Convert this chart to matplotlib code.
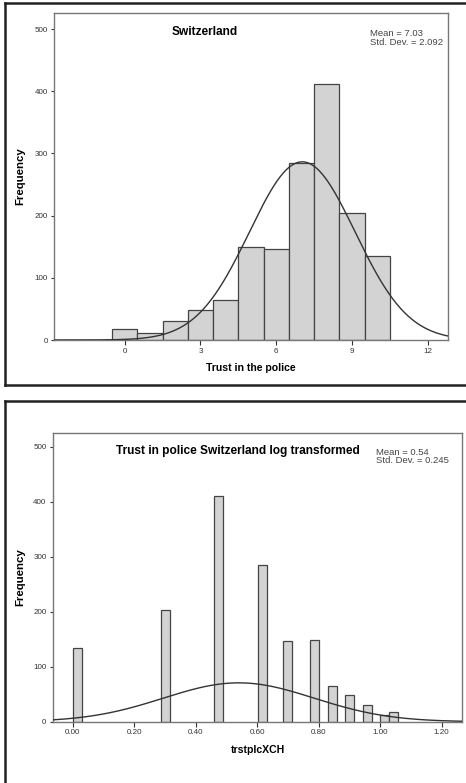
import numpy as np
import matplotlib.pyplot as plt
from matplotlib.lines import Line2D

plt.rcParams['font.family'] = ['Liberation Sans', 'DejaVu Sans']

# Dados do painel superior (escala original 0-10)
trust_values = [0, 1, 2, 3, 4, 5, 6, 7, 8, 9, 10]
trust_counts = [17, 12, 30, 49, 65, 149, 146, 285, 411, 204, 135]
trust_mean = 7.03
trust_sd = 2.092
trust_xticks = [0, 3, 6, 9, 12]

# Dados do painel inferior (log transformado)
log_centers = [0.016, 0.301, 0.473, 0.616, 0.700, 0.786, 0.844, 0.901, 0.958, 1.015, 1.044]
log_counts = [135, 204, 411, 285, 146, 149, 65, 49, 30, 12, 17]
log_mean = 0.54
log_sd = 0.245
log_xticks = [0.0, 0.2, 0.4, 0.6, 0.8, 1.0, 1.2]

y_ticks = [0, 100, 200, 300, 400, 500]

BAR_COR = '#d3d3d3'
BORDA = '#444444'
EIXO = '#777777'


def normal(x, media, dp, escala):
    return escala * np.exp(-0.5 * ((x - media) / dp) ** 2) / (dp * np.sqrt(2 * np.pi))


def estilo_eixo(ax, xlim, xticks, xlabels):
    ax.set_xlim(xlim)
    ax.set_ylim(0, 526)
    ax.set_xticks(xticks)
    ax.set_xticklabels(xlabels)
    ax.set_yticks(y_ticks)
    for s in ax.spines.values():
        s.set_color(EIXO)
        s.set_linewidth(1.0)
    ax.tick_params(axis='both', labelsize=5.8, colors='#333333', length=2.5,
                   width=0.8, pad=2)
    ax.tick_params(axis='x', length=3.5)
    for t in ax.get_xticklabels() + ax.get_yticklabels():
        t.set_color('#333333')


fig = plt.figure(figsize=(4.66, 7.83), dpi=100)

# Molduras externas (cortadas à direita / embaixo como no original)
W, H = 466.0, 783.0
def linha(x0, y0, x1, y1):
    fig.add_artist(Line2D([x0 / W, x1 / W], [1 - y0 / H, 1 - y1 / H],
                          color='#222222', linewidth=1.8))
linha(5, 3, 470, 3)
linha(5, 3, 5, 385)
linha(5, 385, 470, 385)
linha(5, 401, 470, 401)
linha(5, 401, 5, 790)

# Painel superior
ax1 = fig.add_axes([54 / W, 1 - 340 / H, 394 / W, 327 / H])
ax1.bar(trust_values, trust_counts, width=1.0, color=BAR_COR,
        edgecolor=BORDA, linewidth=0.9, zorder=2)
x1 = np.linspace(-2.8, 12.8, 400)
ax1.plot(x1, normal(x1, trust_mean, trust_sd, sum(trust_counts) * 1.0),
         color='#333333', linewidth=1.0, zorder=3)
estilo_eixo(ax1, (-2.8, 12.8), trust_xticks, [str(v) for v in trust_xticks])
ax1.text(0.383, 0.942, 'Switzerland', transform=ax1.transAxes, ha='center',
         va='center', fontsize=8.6, fontweight='bold')
ax1.text(0.802, 0.95, 'Mean = %.2f\nStd. Dev. = %.3f' % (trust_mean, trust_sd),
         transform=ax1.transAxes, ha='left', va='top', fontsize=6.8,
         color='#444444', linespacing=0.95)
ax1.set_xlabel('Trust in the police', fontsize=7.6, fontweight='bold', labelpad=6)
ax1.set_ylabel('Frequency', fontsize=8.2, fontweight='bold', labelpad=7)

# Painel inferior
ax2 = fig.add_axes([52.7 / W, 1 - 721.7 / H, 409.6 / W, 289 / H])
ax2.bar(log_centers, log_counts, width=0.0295, color=BAR_COR,
        edgecolor=BORDA, linewidth=0.9, zorder=2)
x2 = np.linspace(-0.065, 1.267, 400)
ax2.plot(x2, normal(x2, log_mean, log_sd, sum(log_counts) * 0.0289),
         color='#333333', linewidth=1.0, zorder=3)
estilo_eixo(ax2, (-0.065, 1.267), log_xticks, ['%.2f' % v for v in log_xticks])
ax2.text(0.453, 0.936, 'Trust in police Switzerland log transformed',
         transform=ax2.transAxes, ha='center', va='center', fontsize=8.6,
         fontweight='bold')
ax2.text(0.789, 0.948, 'Mean = %.2f\nStd. Dev. = %.3f' % (log_mean, log_sd),
         transform=ax2.transAxes, ha='left', va='top', fontsize=6.8,
         color='#444444', linespacing=0.95)
ax2.set_xlabel('trstplcXCH', fontsize=7.6, fontweight='bold', labelpad=6)
ax2.set_ylabel('Frequency', fontsize=8.2, fontweight='bold', labelpad=6)

fig.savefig('out.png', dpi=100)
